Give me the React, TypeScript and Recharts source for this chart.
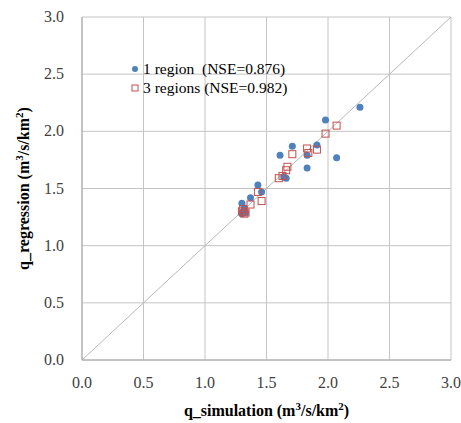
import { ScatterChart, Scatter, XAxis, YAxis, CartesianGrid, ReferenceLine } from 'recharts';

const ticks = [0, 0.5, 1.0, 1.5, 2.0, 2.5, 3.0];

// 1 region (NSE=0.876)
const oneRegionSim = [1.30, 1.31, 1.32, 1.33, 1.30, 1.37, 1.43, 1.46, 1.61, 1.64, 1.66, 1.71, 1.83, 1.83, 1.91, 1.98, 2.07, 2.26];
const oneRegionReg = [1.28, 1.30, 1.33, 1.29, 1.37, 1.42, 1.53, 1.47, 1.79, 1.60, 1.59, 1.87, 1.68, 1.79, 1.88, 2.10, 1.77, 2.21];

// 3 regions (NSE=0.982)
const threeRegionSim = [1.30, 1.31, 1.33, 1.32, 1.37, 1.43, 1.46, 1.60, 1.63, 1.66, 1.67, 1.71, 1.83, 1.84, 1.91, 1.98, 2.07];
const threeRegionReg = [1.30, 1.32, 1.29, 1.28, 1.36, 1.47, 1.39, 1.59, 1.61, 1.66, 1.69, 1.80, 1.85, 1.81, 1.84, 1.98, 2.05];

const seriesNames = ['1 region  (NSE=0.876)', '3 regions (NSE=0.982)'];

const oneRegion = oneRegionSim.map((x, i) => ({ x, y: oneRegionReg[i] }));
const threeRegions = threeRegionSim.map((x, i) => ({ x, y: threeRegionReg[i] }));

const FONT = 'Liberation Serif, serif';
const BLUE = '#4f81bd';
const RED = '#c0504d';

const Dot = (props: any) => <circle cx={props.cx} cy={props.cy} r={3.5} fill={BLUE} />;
const Square = (props: any) => (
  <rect x={props.cx - 3.5} y={props.cy - 3.5} width={7} height={7} fill="none" stroke={RED} strokeWidth={1} />
);

const XTick = ({ x, y, payload }: any) => (
  <text x={x} y={y + 20} textAnchor="middle" style={{ fontFamily: FONT }} fontSize={16} fill="#404040">
    {payload.value.toFixed(1)}
  </text>
);

const YTick = ({ x, y, payload }: any) => (
  <text x={x - 10} y={y + 5} textAnchor="end" style={{ fontFamily: FONT }} fontSize={16} fill="#404040">
    {payload.value.toFixed(1)}
  </text>
);

const XLabel = ({ viewBox }: any) => (
  <text x={viewBox.x + viewBox.width / 2} y={416} textAnchor="middle" style={{ fontFamily: FONT }} fontSize={16} fontWeight="bold" fill="#000">
    q_simulation (m<tspan dy={-6} fontSize={11}>3</tspan><tspan dy={6}>/s/km</tspan><tspan dy={-6} fontSize={11}>2</tspan><tspan dy={6}>)</tspan>
  </text>
);

const YLabel = ({ viewBox }: any) => {
  const cy = viewBox.y + viewBox.height / 2;
  return (
    <text x={29} y={cy} transform={`rotate(-90, 29, ${cy})`} textAnchor="middle" style={{ fontFamily: FONT }} fontSize={16} fontWeight="bold" fill="#000">
      q_regression (m<tspan dy={-6} fontSize={11}>3</tspan><tspan dy={6}>/s/km</tspan><tspan dy={-6} fontSize={11}>2</tspan><tspan dy={6}>)</tspan>
    </text>
  );
};

const LegendBox = () => (
  <div style={{ position: 'absolute', left: 129, top: 59, fontFamily: FONT, fontSize: 15.5, color: '#000', lineHeight: '19px' }}>
    {seriesNames.map((name, i) => (
      <div key={name} style={{ display: 'flex', alignItems: 'center' }}>
        <svg width={12} height={12} style={{ marginRight: 2 }}>
          {i === 0 ? (
            <circle cx={6} cy={6} r={3} fill={BLUE} />
          ) : (
            <rect x={3} y={3} width={6} height={6} fill="none" stroke={RED} />
          )}
        </svg>
        <span style={{ whiteSpace: 'pre' }}>{name}</span>
      </div>
    ))}
  </div>
);

export default function App() {
  return (
    <div style={{ position: 'absolute', left: 0, top: 0, width: 461, height: 423, background: '#fff', fontFamily: FONT }}>
      <ScatterChart width={461} height={423} margin={{ top: 17, right: 10, bottom: 0, left: 0 }}>
        <CartesianGrid stroke="#c4c4c4" strokeWidth={1} />
        <XAxis
          type="number"
          dataKey="x"
          domain={[0, 3]}
          ticks={ticks}
          height={63}
          stroke="#a6a6a6"
          tickLine={false}
          tick={<XTick />}
          label={<XLabel />}
        />
        <YAxis
          type="number"
          dataKey="y"
          domain={[0, 3]}
          ticks={ticks}
          width={82}
          stroke="#a6a6a6"
          tickLine={false}
          tick={<YTick />}
          label={<YLabel />}
        />
        <ReferenceLine segment={[{ x: 0, y: 0 }, { x: 3, y: 3 }]} stroke="#b8b8b8" strokeWidth={1} />
        <Scatter name={seriesNames[0]} data={oneRegion} shape={<Dot />} isAnimationActive={false} />
        <Scatter name={seriesNames[1]} data={threeRegions} shape={<Square />} isAnimationActive={false} />
      </ScatterChart>
      <LegendBox />
    </div>
  );
}
